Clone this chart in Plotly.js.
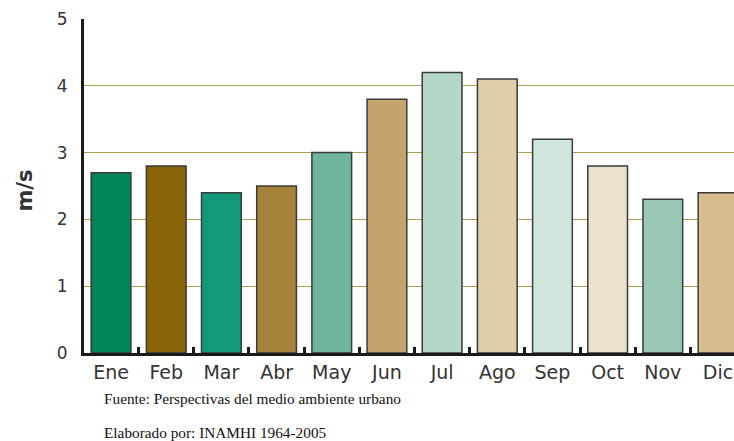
<!DOCTYPE html>
<html><head><meta charset="utf-8">
<script src="https://cdn.plot.ly/plotly-3.0.1.min.js"></script>
<style>html,body{margin:0;padding:0;background:#fff;}#c{width:734px;height:441px;}</style>
</head><body><div id="c"></div>
<script>
const months = ["Ene","Feb","Mar","Abr","May","Jun","Jul","Ago","Sep","Oct","Nov","Dic"];
const speeds = [2.7, 2.8, 2.4, 2.5, 3.0, 3.8, 4.2, 4.1, 3.2, 2.8, 2.3, 2.4];
const barColors = ["#00855a","#8a6508","#12997a","#a5833a","#6eb59b","#c4a46a","#b4d8c6","#dfcfa8","#d0e6dc","#ebe2cc","#99c8b4","#d6bd8e"];
const yTicks = [0,1,2,3,4,5];
const yTitle = "m/s";
const notes = ["Fuente: Perspectivas del medio ambiente urbano","Elaborado por: INAMHI 1964-2005"];

const trace = {
  type: "bar", x: months, y: speeds,
  marker: {color: barColors, line: {color: "#3a3a3a", width: 1.5}},
  width: 0.72, hoverinfo: "x+y"
};
const layout = {
  width: 734, height: 441,
  margin: {l: 84, r: 0, t: 19, b: 88},
  paper_bgcolor: "#fff", plot_bgcolor: "#fff",
  showlegend: false,
  xaxis: {
    type: "category", range: [-0.49, 11.29],
    showline: true, linecolor: "#1a1a1a", linewidth: 3,
    ticks: "inside", tickson: "boundaries", ticklen: 6, tickwidth: 3, tickcolor: "#1a1a1a",
    tickfont: {family: "'DejaVu Sans', sans-serif", size: 19, color: "#333"},
    showgrid: false, zeroline: false
  },
  yaxis: {
    range: [0, 5], tickvals: yTicks, ticktext: yTicks.map(String),
    showline: true, linecolor: "#1a1a1a", linewidth: 3,
    ticks: "", ticklabelstandoff: 10,
    tickfont: {family: "'DejaVu Sans', sans-serif", size: 17, color: "#333"},
    showgrid: true, gridcolor: "#ad9f55", gridwidth: 1, zeroline: false
  },
  annotations: [
    {text: "<b>" + yTitle + "</b>", xref: "paper", yref: "paper", x: -0.09, y: 0.485,
     textangle: -90, showarrow: false, xanchor: "center", yanchor: "middle",
     font: {family: "'DejaVu Sans', sans-serif", size: 21, color: "#333"}},
    {text: notes[0], xref: "paper", yref: "paper", x: 0.028, y: -0.135,
     xanchor: "left", yanchor: "middle", showarrow: false,
     font: {family: "'Liberation Serif', 'Times New Roman', serif", size: 15.3, color: "#111"}},
    {text: notes[1], xref: "paper", yref: "paper", x: 0.028, y: -0.237,
     xanchor: "left", yanchor: "middle", showarrow: false,
     font: {family: "'Liberation Serif', 'Times New Roman', serif", size: 15.3, color: "#111"}}
  ]
};
Plotly.newPlot("c", [trace], layout, {displayModeBar: false, staticPlot: true});
</script></body></html>
